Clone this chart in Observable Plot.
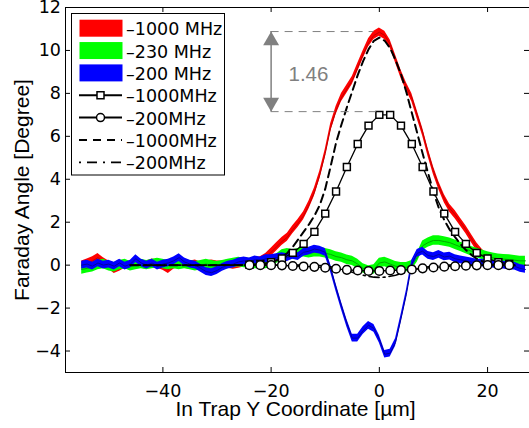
<!DOCTYPE html>
<html><head><meta charset="utf-8">
<script src="https://cdn.jsdelivr.net/npm/d3@7"></script>
<script src="https://cdn.jsdelivr.net/npm/@observablehq/plot@0.6"></script>
<style>
body{margin:0;background:#fff;font-family:"Liberation Sans",Arial,Helvetica,sans-serif}
svg{display:block}
</style>
</head><body><div id="chart"></div>
<script>
// ---- measured bands (x in µm) ----
const measX = [-55,-54,-53,-52,-51,-50,-49,-48,-47,-46,-45,-44,-43,-42,-41,-40,-39,-38,-37,-36,-35,-34,-33,-32,-31,-30,-29,-28,-27,-26,-25,-24,-23,-22,
  -21,-20,-19,-18,-17,-16,-15,-14,-13,-12,-11,-10,-9,-8,-7,-6,-5,-4,-3,-2,-1,0,1,2,3,4,5,6,7,8,9,10,11,12,13,14,15,16,17,18,19,20,21,22,23,24,25,26,27];
const red1000 = [0.0,0.1,0.2,0.35,0.15,0.0,-0.2,-0.1,0.05,-0.05,0.1,0.05,0.0,0.1,0.05,-0.05,-0.2,0.0,0.1,0.05,0.0,0.05,-0.05,0.0,0.05,0.0,0.0,0.05,0.0,0.05,0.1,0.1,0.15,0.2,
  0.35,0.6,0.85,1.1,1.3,1.65,1.95,2.3,2.8,3.4,4.2,5.2,6.4,7.2,7.8,8.2,8.6,9.2,9.8,10.35,10.7,10.85,
  10.7,10.3,9.6,8.9,8.3,7.8,7.0,6.2,5.25,4.4,3.7,3.1,2.65,2.35,2.0,1.65,1.25,0.85,0.55,0.3,0.15,0.1,0.05,0.05,0.0,0.0,0.0];
const green230 = [-0.2,-0.15,-0.1,0.0,0.05,-0.05,-0.1,0.0,0.05,-0.05,0.0,0.05,0.0,0.05,0.1,0.05,0.0,0.05,0.0,0.05,0.0,-0.05,0.0,0.05,0.0,-0.05,0.0,0.05,0.1,0.15,0.1,0.1,0.05,0.05,
  0.05,0.1,0.3,0.5,0.55,0.5,0.55,0.6,0.55,0.6,0.6,0.55,0.5,0.4,0.35,0.25,0.2,0.05,-0.15,-0.25,-0.2,0.1,
  0.15,0.05,-0.05,-0.1,-0.1,0.0,0.35,0.9,1.05,1.15,1.15,1.1,1.05,0.95,0.85,0.75,0.65,0.57,0.48,0.4,0.34,0.3,0.28,0.26,0.23,0.2,0.2];
const blue200 = [0.0,0.05,-0.05,0.1,0.0,0.05,-0.05,0.1,-0.05,0.05,0.3,0.1,0.0,0.1,-0.05,0.05,0.1,0.2,0.35,0.15,0.05,0.0,-0.15,-0.3,-0.35,-0.25,-0.1,0.0,0.05,0.15,0.2,0.15,0.25,0.2,
  0.3,0.3,0.35,0.4,0.35,0.45,0.4,0.6,0.65,0.75,0.7,0.6,-0.15,-1.05,-1.9,-2.7,-3.4,-3.4,-3.05,-2.8,-2.95,-3.45,
  -4.15,-4.1,-3.6,-2.5,-1.35,0.05,0.55,0.65,0.45,0.4,0.5,0.38,0.42,0.3,0.25,0.2,0.15,0.1,0.1,0.05,0.05,0.0,0.0,-0.05,-0.05,-0.15,-0.2];
const redErr = 0.19, greenErr = 0.22, blueErr = 0.18;

// ---- simulated (markers) ----
const simX = [-24,-22,-20,-18,-16,-14,-12,-10,-8,-6,-4,-2,0,2,4,6,8,10,12,14,16,18,20,22,24];
const sim1000 = [0.02,0.06,0.14,0.31,0.57,0.99,1.55,2.4,3.43,4.57,5.64,6.5,7.0,7.0,6.5,5.64,4.57,3.43,2.4,1.55,0.99,0.57,0.31,0.14,0.06];
const sim200 = [0,0,0,-0.01,-0.04,-0.06,-0.08,-0.12,-0.17,-0.22,-0.25,-0.27,-0.27,-0.25,-0.23,-0.2,-0.15,-0.11,-0.07,-0.05,-0.03,-0.01,0,0,0];

// ---- theory (lines) ----
const theoX = [-46,-30,-22,-21,-20,-19,-18,-17,-16,-15,-14,-13,-12,-11,-10,-9,-8,-7,-6,-5,-4,-3,-2,-1,0,1,2,3,4,5,6,7,8,9,10,11,12,13,14,15,16,17,18,19,20,21,22,25];
const theo1000 = [0,0,0.02,0.06,0.12,0.22,0.37,0.57,0.85,1.2,1.55,1.9,2.3,2.8,3.55,4.6,5.7,6.55,7.35,8.1,8.85,9.5,10.05,10.45,10.6,
  10.45,10.1,9.55,8.9,8.05,7.1,6.15,5.2,4.3,3.4,2.65,2.1,1.65,1.3,0.98,0.7,0.48,0.3,0.18,0.1,0.05,0.02,0];
const theo200 = [0,0,0,0,0,0,0,0,0,0,0,0,0,-0.02,-0.05,-0.08,-0.12,-0.18,-0.25,-0.33,-0.4,-0.47,-0.52,-0.56,-0.57,
  -0.56,-0.52,-0.47,-0.4,-0.33,-0.25,-0.18,-0.12,-0.08,-0.05,-0.02,0,0,0,0,0,0,0,0,0,0,0,0];

// ---- axes ----
const xDomain = [-58, 27.75];
const yDomain = [-5, 12];
const xTicks = [-40, -20, 0, 20];
const yTicks = [-4, -2, 0, 2, 4, 6, 8, 10, 12];
const xLabel = "In Trap Y Coordinate [µm]";
const yLabel = "Faraday Angle [Degree]";

// ---- annotation ----
const annotX = -20, annotTop = 10.88, annotBottom = 7.15, annotTopEnd = -1, annotBottomEnd = -0.5;
const annotText = "1.46", annotTextX = -13.1, annotTextY = 8.9;

// ---- legend ----
const legendLabels = ["–1000 MHz", "–230 MHz", "–200 MHz", "–1000MHz", "–200MHz", "–1000MHz", "–200MHz"];
const legendKinds = ["patch", "patch", "patch", "square", "circle", "dash", "dashdot"];
const legendColors = ["#ff0000", "#00ff00", "#0000ff", "black", "black", "black", "black"];

const FONT = '"Liberation Sans", Arial, Helvetica, sans-serif';
const WIDEFONT = '"DejaVu Sans", "Liberation Sans", sans-serif';
const GRAY = "#808080";

const meas = measX.map((x, i) => ({x, r: red1000[i], g: green230[i], b: blue200[i]}));
const sim = simX.map((x, i) => ({x, s: sim1000[i], c: sim200[i]}));
const theo = theoX.map((x, i) => ({x, d: theo1000[i], dd: theo200[i]}));

const H = 428, W = 529, mL = 65, mR = 0, mT = 7, mB = 56;
const pxPerY = (H - mT - mB) / (yDomain[1] - yDomain[0]);
const pxPerX = (W - mL - mR) / (xDomain[1] - xDomain[0]);
const tickLen = 5;
const tY = tickLen / pxPerY, tX = tickLen / pxPerX;

const triH = 4.6;
const triSize = triH * triH * 3 * Math.sqrt(3);
const triR = Math.sqrt(triSize / Math.PI);
const triDown = {draw(context, size) {
  const y = Math.sqrt(size / (Math.sqrt(3) * 3));
  context.moveTo(0, 2 * y);
  context.lineTo(Math.sqrt(3) * y, -y);
  context.lineTo(-Math.sqrt(3) * y, -y);
  context.closePath();
}};

const annLines = [{y: annotTop, x1: annotX, x2: annotTopEnd}, {y: annotBottom, x1: annotX, x2: annotBottomEnd}];

const plot = Plot.plot({
  width: W, height: H, marginLeft: mL, marginRight: mR, marginTop: mT, marginBottom: mB,
  x: {domain: xDomain, label: null},
  y: {domain: yDomain, label: null},
  style: {fontFamily: FONT, fontSize: "18px", background: "white", color: "black"},
  marks: [
    Plot.areaY(meas, {x: "x", y1: d => d.r - redErr, y2: d => d.r + redErr, fill: "#ff0000"}),
    Plot.line(meas, {x: "x", y: "r", stroke: "#c00000", strokeWidth: 1}),
    Plot.areaY(meas, {x: "x", y1: d => d.g - greenErr, y2: d => d.g + greenErr, fill: "#00ff00"}),
    Plot.line(meas, {x: "x", y: "g", stroke: "#00a800", strokeWidth: 1}),
    Plot.areaY(meas, {x: "x", y1: d => d.b - blueErr, y2: d => d.b + blueErr, fill: "#0000ff"}),
    Plot.line(meas, {x: "x", y: "b", stroke: "#0000a0", strokeWidth: 1}),
    Plot.line(theo, {x: "x", y: "dd", stroke: "black", strokeWidth: 1.6, strokeDasharray: "10,4,2,4"}),
    Plot.line(theo, {x: "x", y: "d", stroke: "black", strokeWidth: 2, strokeDasharray: "8,5"}),
    Plot.line(sim, {x: "x", y: "s", stroke: "black", strokeWidth: 1.3}),
    Plot.dot(sim, {x: "x", y: "s", symbol: "square", r: 3.9, fill: "white", stroke: "black", strokeWidth: 1.5}),
    Plot.line(sim, {x: "x", y: "c", stroke: "black", strokeWidth: 1.3}),
    Plot.dot(sim, {x: "x", y: "c", symbol: "circle", r: 4.3, fill: "white", stroke: "black", strokeWidth: 1.5}),
    // annotation
    Plot.ruleY(annLines, {y: "y", x1: "x1", x2: "x2", stroke: GRAY, strokeWidth: 1, strokeDasharray: "8,6"}),
    Plot.ruleX([{x: annotX, y1: annotBottom, y2: annotTop}], {x: "x", y1: "y1", y2: "y2", stroke: GRAY, strokeWidth: 1.5}),
    Plot.dot([{x: annotX, y: annotTop}], {x: "x", y: "y", symbol: "triangle", r: triR, dy: 2 * triH, fill: GRAY, stroke: "none"}),
    Plot.dot([{x: annotX, y: annotBottom}], {x: "x", y: "y", symbol: triDown, r: triR, dy: -2 * triH, fill: GRAY, stroke: "none"}),
    Plot.text([{x: annotTextX, y: annotTextY}], {x: "x", y: "y", text: () => annotText, fill: GRAY, fontSize: 20.5, textAnchor: "middle"}),
    // frame (left, bottom, top)
    Plot.ruleX([xDomain[0]], {stroke: "black", strokeWidth: 1}),
    Plot.ruleY([yDomain[0], yDomain[1]], {stroke: "black", strokeWidth: 1}),
    // inward ticks
    Plot.ruleX(xTicks, {x: d => d, y1: () => yDomain[0], y2: () => yDomain[0] + tY, stroke: "black"}),
    Plot.ruleX(xTicks, {x: d => d, y1: () => yDomain[1] - tY, y2: () => yDomain[1], stroke: "black"}),
    Plot.ruleY(yTicks, {y: d => d, x1: () => xDomain[0], x2: () => xDomain[0] + tX, stroke: "black"}),
    Plot.ruleY(yTicks, {y: d => d, x1: () => xDomain[1] - tX, x2: () => xDomain[1], stroke: "black"}),
    Plot.axisX(xTicks, {tickSize: 0, tickPadding: 12, fontSize: 17.5, fontFamily: WIDEFONT, label: null}),
    Plot.axisY(yTicks, {tickSize: 0, tickPadding: 4.5, fontSize: 17.5, fontFamily: WIDEFONT, label: null}),
    Plot.text([xLabel], {frameAnchor: "bottom", dy: 37, dx: -2, fontSize: 21, lineAnchor: "middle", textAnchor: "middle"}),
    Plot.text([yLabel], {frameAnchor: "left", dx: -43.4, rotate: -90, fontSize: 21, lineAnchor: "middle", textAnchor: "middle"})
  ]
});

// legend inside the axes (top-left)
const svg = d3.select(plot);
const lg = svg.append("g").attr("font-family", WIDEFONT).attr("font-size", 17.5).attr("text-anchor", "start");
lg.append("rect").attr("x", 71.5).attr("y", 13.5).attr("width", 153).attr("height", 161.5)
  .attr("fill", "white").attr("stroke", "black").attr("stroke-width", 1);
legendLabels.forEach((lab, i) => {
  const base = 35.2 + i * 22.35;
  const cy = base - 7;
  const kind = legendKinds[i];
  if (kind === "patch") {
    lg.append("rect").attr("x", 79.5).attr("y", cy - 8.5).attr("width", 43).attr("height", 17).attr("fill", legendColors[i]);
  } else {
    const line = lg.append("line").attr("x1", 79).attr("x2", 122).attr("y1", cy).attr("y2", cy)
      .attr("stroke", "black").attr("stroke-width", 2);
    if (kind === "dash") line.attr("stroke-dasharray", "8,6");
    if (kind === "dashdot") line.attr("stroke-dasharray", "2,6,10,6").attr("stroke-width", 1.8);
    if (kind === "square") lg.append("rect").attr("x", 97).attr("y", cy - 3.5).attr("width", 7).attr("height", 7)
      .attr("fill", "white").attr("stroke", "black").attr("stroke-width", 1.5);
    if (kind === "circle") lg.append("circle").attr("cx", 100.5).attr("cy", cy).attr("r", 4)
      .attr("fill", "white").attr("stroke", "black").attr("stroke-width", 1.5);
  }
  lg.append("text").attr("x", 126).attr("y", base).attr("text-anchor", "start").text(lab).attr("fill", "black");
});

document.getElementById("chart").appendChild(plot);
</script>
</body></html>
